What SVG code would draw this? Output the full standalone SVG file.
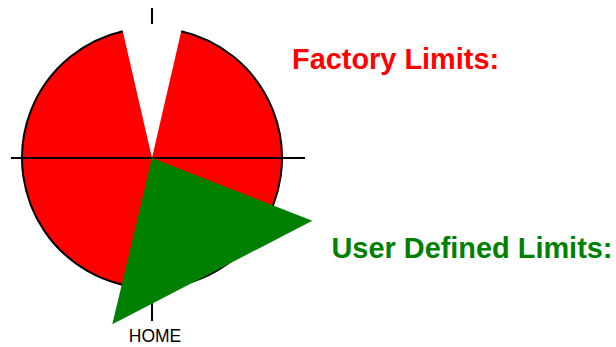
<svg xmlns="http://www.w3.org/2000/svg" width="616" height="347" viewBox="0 0 616 347">
<style>
.ln{stroke:#000;stroke-width:2;fill:none}
.lbl{font-family:"Liberation Sans",Arial,sans-serif;font-weight:bold;font-size:28.9px}
</style>
<rect width="616" height="347" fill="#fff"/>
<g id="factory-sector">
<path d="M152,158 L181.24,31.33 A130,130 0 1,1 122.76,31.33 Z" fill="#ff0000"/>
<path class="ln" d="M181.24,31.33 A130,130 0 1,1 122.76,31.33"/>
</g>
<g id="axes">
<line class="ln" x1="11" y1="158" x2="305" y2="158"/>
<line class="ln" x1="152" y1="8" x2="152" y2="24"/>
<line class="ln" x1="152" y1="288" x2="152" y2="321"/>
</g>
<g id="user-sector">
<polygon points="152,158 312.3,220.7 112.3,324.3" fill="#008000"/>
</g>
<g id="labels">
<text x="155" y="341.7" text-anchor="middle" font-family="Liberation Sans, Arial, sans-serif" font-size="17.5">HOME</text>
<text class="lbl" x="292" y="69.3" fill="#ff0000">Factory Limits:</text>
<text class="lbl" x="331.5" y="258.3" fill="#008000">User Defined Limits:</text>
</g>
</svg>
